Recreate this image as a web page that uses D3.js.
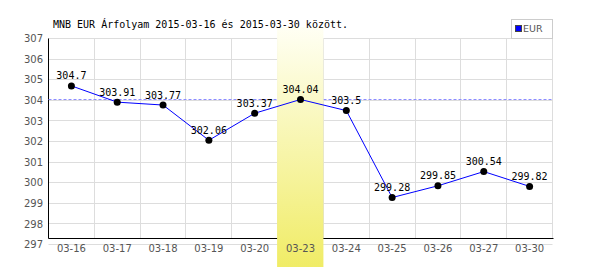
<!DOCTYPE html>
<html>
<head>
<meta charset="utf-8">
<script src="https://cdnjs.cloudflare.com/ajax/libs/d3/7.8.5/d3.min.js"></script>
<style>
  body { margin: 0; background: #fff; }
</style>
</head>
<body>
<div id="main"></div>
<script>
var dates = ["03-16", "03-17", "03-18", "03-19", "03-20", "03-23", "03-24", "03-25", "03-26", "03-27", "03-30"];
var rates = [304.7, 303.91, 303.77, 302.06, 303.37, 304.04, 303.5, 299.28, 299.85, 300.54, 299.82];
var yTicks = [297, 298, 299, 300, 301, 302, 303, 304, 305, 306, 307];
var highlightDay = "03-23";
var refValue = 304.04;
var seriesName = "EUR";
var title = "MNB EUR Árfolyam 2015-03-16 és 2015-03-30 között.";

var width = 600, height = 270;
var plotLeft = 48.5, plotRight = 552.5, plotTop = 38.5, plotBottom = 244.5, axisY = 238.5;

var svg = d3.select("#main").append("svg")
  .attr("width", width).attr("height", height);

var x = d3.scaleBand().domain(dates).range([plotLeft, plotRight]);
var y = d3.scaleLinear().domain([297, 307]).range([plotBottom, plotTop]);

function px(v) { return Math.round(v) + 0.5; }

var grid = svg.append("g");
// horizontal grid
grid.selectAll(".h").data(yTicks).enter().append("line")
  .attr("x1", plotLeft).attr("x2", plotRight)
  .attr("y1", function (d) { return px(y(d) - 0.5); })
  .attr("y2", function (d) { return px(y(d) - 0.5); })
  .style("stroke", "#dddddd").style("stroke-width", 1);
// vertical grid at category borders
var borders = dates.slice(1).map(function (d) { return x(d); }).concat([plotRight]);
grid.selectAll(".v").data(borders).enter().append("line")
  .attr("x1", function (d) { return px(d - 0.5); })
  .attr("x2", function (d) { return px(d - 0.5); })
  .attr("y1", plotTop).attr("y2", axisY)
  .style("stroke", "#dddddd").style("stroke-width", 1);

// axes lines
svg.append("line").attr("x1", plotLeft).attr("x2", plotLeft).attr("y1", plotTop).attr("y2", axisY)
  .style("stroke", "#000").style("stroke-width", 1);
svg.append("line").attr("x1", plotLeft).attr("x2", plotRight + 1).attr("y1", axisY).attr("y2", axisY)
  .style("stroke", "#000").style("stroke-width", 1);

// reference dashed line
svg.append("line")
  .attr("x1", plotLeft).attr("x2", plotRight)
  .attr("y1", px(y(refValue) - 0.5)).attr("y2", px(y(refValue) - 0.5))
  .style("stroke", "#8c8cff").style("stroke-width", 1).style("stroke-dasharray", "3,2");

// highlight band
var defs = svg.append("defs");
var grad = defs.append("linearGradient").attr("id", "hl")
  .attr("x1", 0).attr("y1", 0).attr("x2", 0).attr("y2", 1);
grad.append("stop").attr("offset", "0%").attr("stop-color", "#fffff4");
grad.append("stop").attr("offset", "100%").attr("stop-color", "#f0ec66");
svg.append("rect")
  .attr("x", x(highlightDay) - 0.5).attr("y", 27)
  .attr("width", x.bandwidth() + 0.5).attr("height", 240)
  .style("fill", "url(#hl)");

// y tick labels
svg.selectAll(".ylab").data(yTicks).enter().append("text")
  .attr("x", 43).attr("y", function (d) { return y(d); })
  .attr("dy", "0.36em")
  .attr("text-anchor", "end")
  .style("font-family", "DejaVu Sans").style("font-size", "10px")
  .style("fill", "#555")
  .text(function (d) { return d; });

// x tick labels
svg.selectAll(".xlab").data(dates).enter().append("text")
  .attr("x", function (d) { return x(d) + x.bandwidth() / 2; })
  .attr("y", 252)
  .attr("text-anchor", "middle")
  .style("font-family", "DejaVu Sans").style("font-size", "10px")
  .style("fill", "#555")
  .text(function (d) { return d; });

// series
var line = d3.line()
  .x(function (d, i) { return x(dates[i]) + x.bandwidth() / 2; })
  .y(function (d) { return y(d); });
svg.append("path").datum(rates)
  .attr("d", line)
  .style("fill", "none").style("stroke", "#0000ff").style("stroke-width", 1);

svg.selectAll(".pt").data(rates).enter().append("circle")
  .attr("cx", function (d, i) { return x(dates[i]) + x.bandwidth() / 2; })
  .attr("cy", function (d) { return y(d); })
  .attr("r", 3.5)
  .style("fill", "#000");

svg.selectAll(".vl").data(rates).enter().append("text")
  .attr("x", function (d, i) { return x(dates[i]) + x.bandwidth() / 2; })
  .attr("y", function (d) { return y(d) - 6.5; })
  .attr("text-anchor", "middle")
  .style("font-family", "DejaVu Sans Mono").style("font-size", "10px")
  .style("fill", "#000")
  .text(function (d) { return String(d); });

// title
svg.append("text")
  .attr("x", 53).attr("y", 28)
  .style("font-family", "DejaVu Sans Mono").style("font-size", "10px")
  .style("fill", "#000")
  .text(title);

// legend
var legend = svg.append("g");
legend.append("rect")
  .attr("x", 511.5).attr("y", 19.5).attr("width", 41).attr("height", 19)
  .style("fill", "#fff").style("stroke", "#cccccc");
legend.append("rect")
  .attr("x", 515.5).attr("y", 25.5).attr("width", 6).attr("height", 6)
  .style("fill", "#0000ff").style("stroke", "#444");
legend.append("text")
  .attr("x", 523).attr("y", 32)
  .style("font-family", "DejaVu Sans").style("font-size", "9.5px")
  .style("fill", "#555")
  .text(seriesName);
</script>
</body>
</html>
